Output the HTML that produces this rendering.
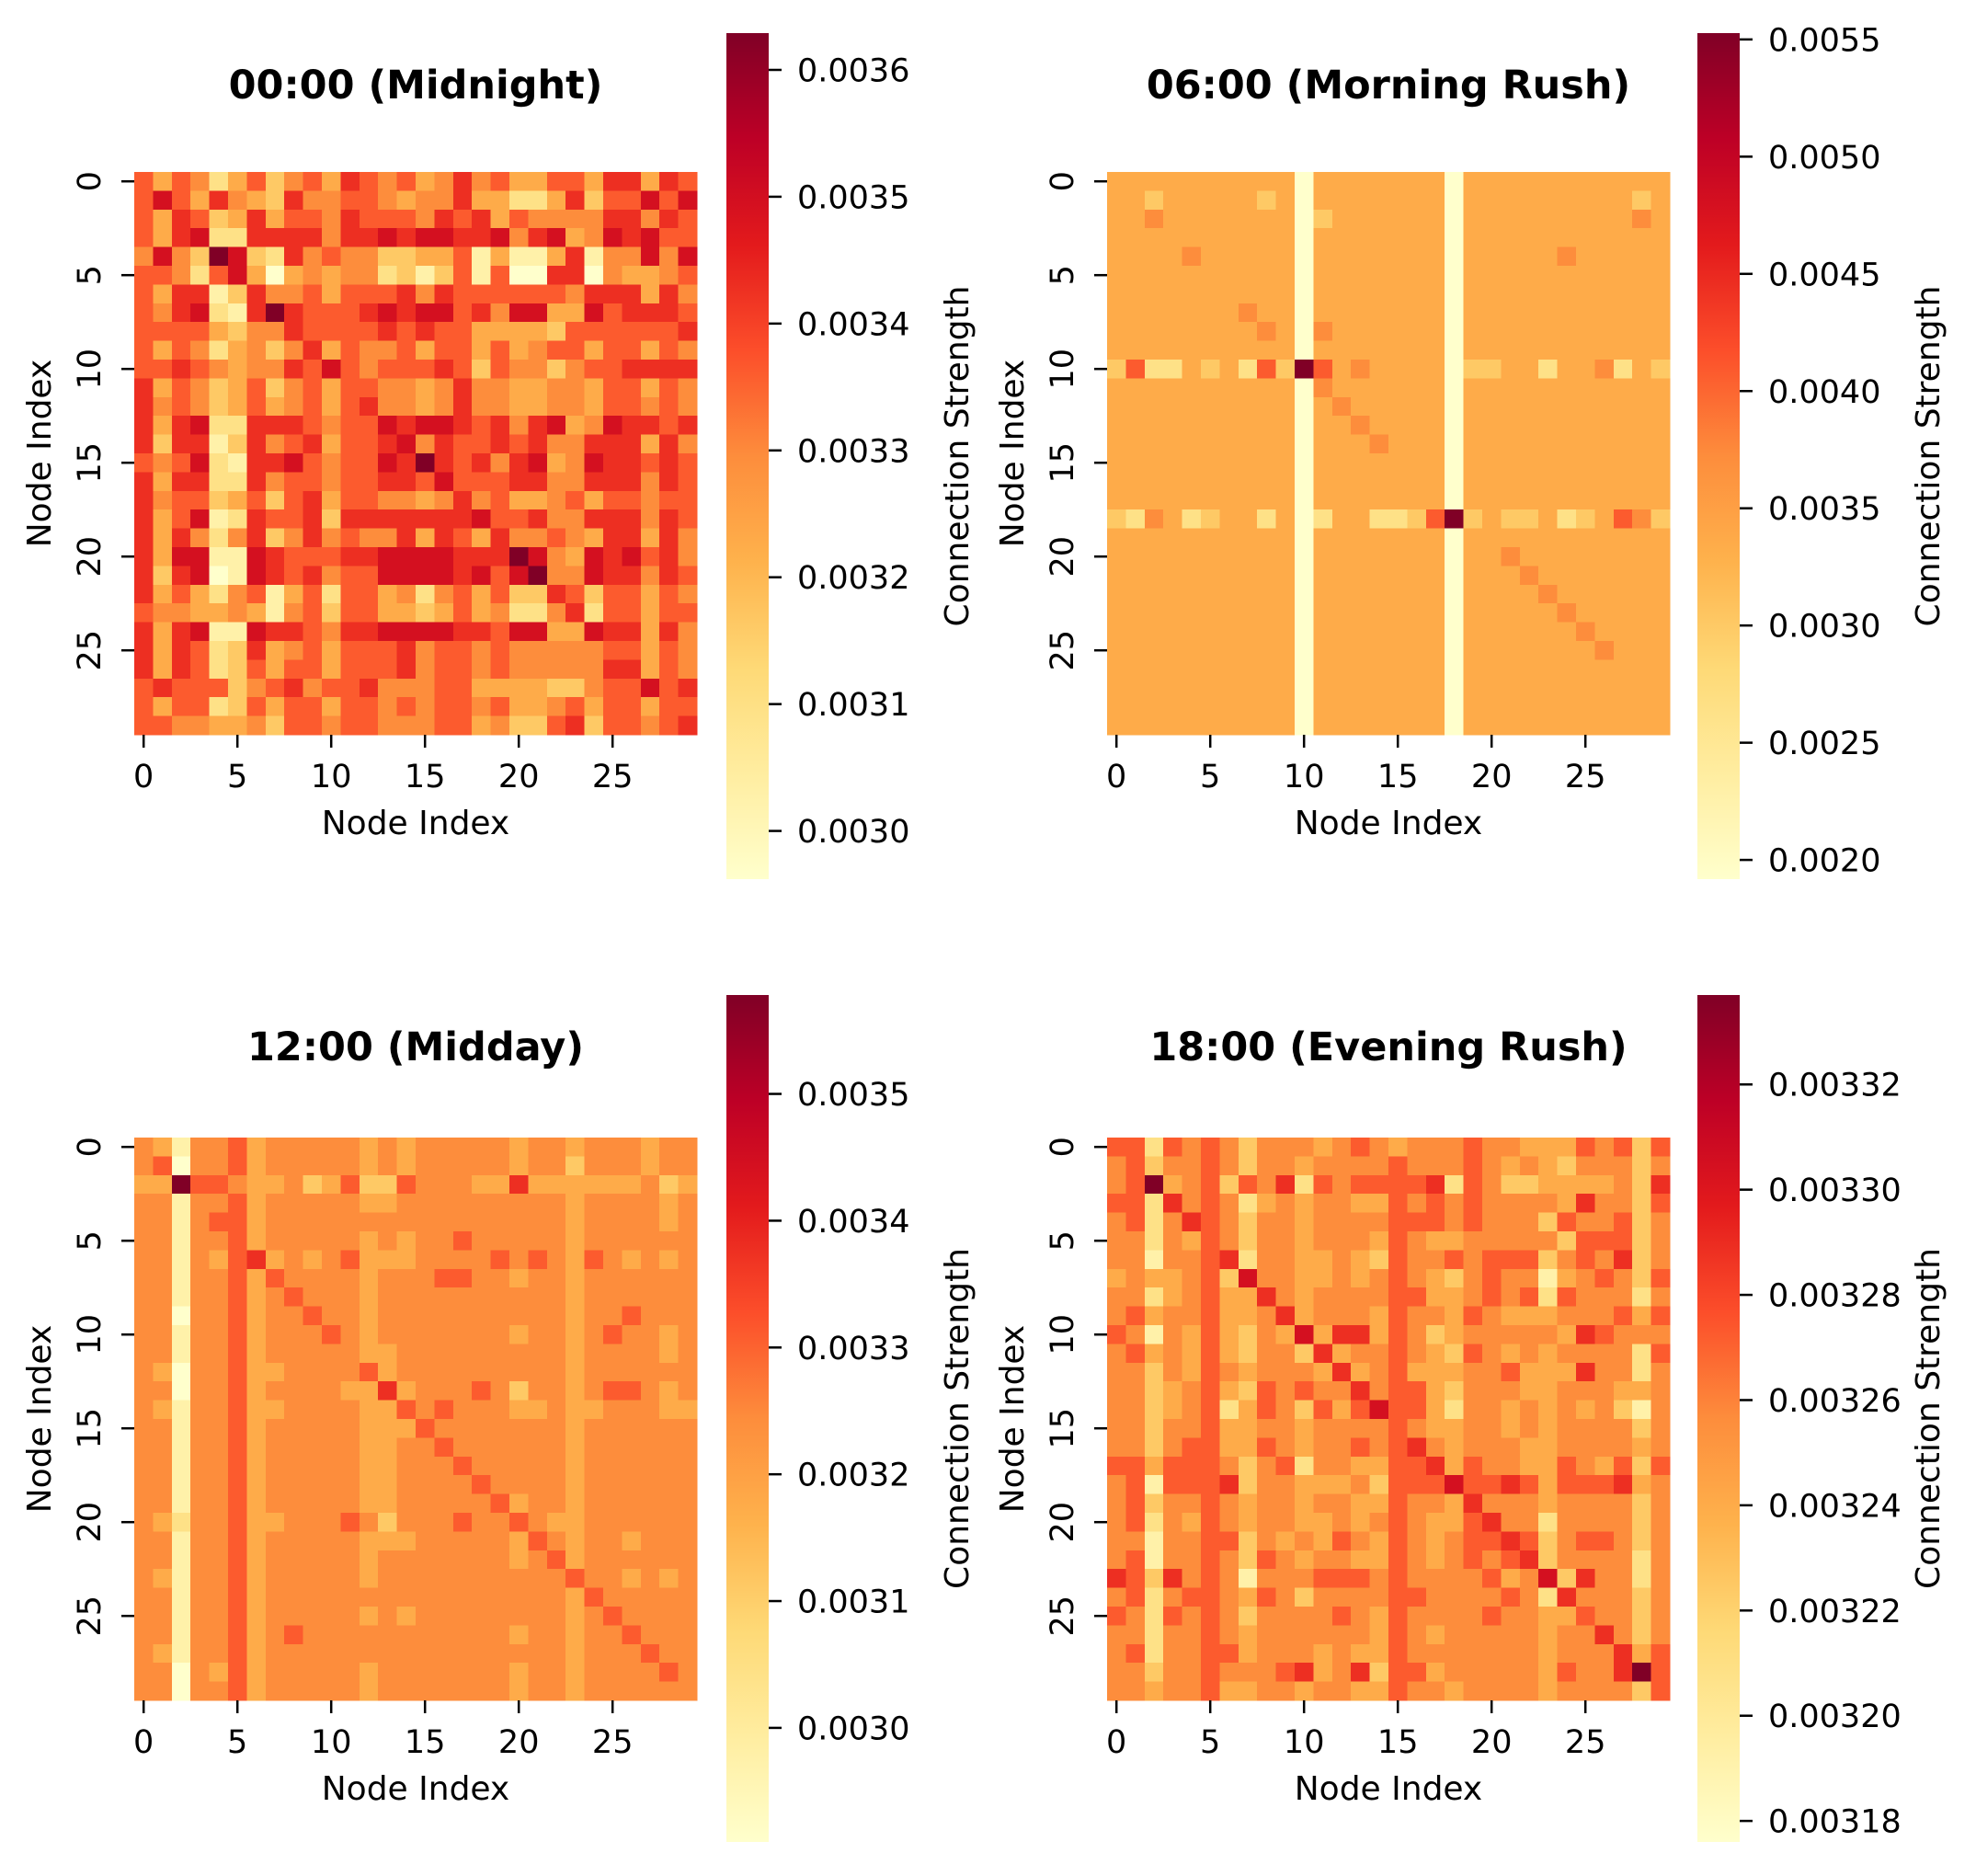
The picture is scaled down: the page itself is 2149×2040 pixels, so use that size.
<!DOCTYPE html>
<html><head><meta charset="utf-8"><style>
html,body{margin:0;padding:0;background:#fff;}
svg{display:block;font-family:"DejaVu Sans","Liberation Sans",sans-serif;}
</style></head>
<body>
<svg id="fig" width="2149" height="2040" viewBox="0 0 2149 2040" xmlns="http://www.w3.org/2000/svg">
<defs>
<linearGradient id="ylorrd" x1="0" y1="1" x2="0" y2="0">
<stop offset="0" stop-color="#ffffcc"/><stop offset="0.125" stop-color="#ffeda0"/><stop offset="0.25" stop-color="#fed976"/><stop offset="0.375" stop-color="#feb24c"/><stop offset="0.5" stop-color="#fd8d3c"/><stop offset="0.625" stop-color="#fc4e2a"/><stop offset="0.75" stop-color="#e31a1c"/><stop offset="0.875" stop-color="#bd0026"/><stop offset="1" stop-color="#800026"/>
</linearGradient>
</defs>
</svg>
<script>
// ---- data (levels 0-9; 0 = colour-scale min, 9 = colour-scale max) ----
const titles = ["00:00 (Midnight)", "06:00 (Morning Rush)", "12:00 (Midday)", "18:00 (Evening Rush)"];
const vmins = [0.002962, 0.001918, 0.00291, 0.003176];
const vmaxs = [0.003629, 0.005527, 0.003578, 0.003337];
const cbTicks0 = [0.0030, 0.0031, 0.0032, 0.0033, 0.0034, 0.0035, 0.0036];
const cbTicks1 = [0.0020, 0.0025, 0.0030, 0.0035, 0.0040, 0.0045, 0.0050, 0.0055];
const cbTicks2 = [0.0030, 0.0031, 0.0032, 0.0033, 0.0034, 0.0035];
const cbTicks3 = [0.00318, 0.00320, 0.00322, 0.00324, 0.00326, 0.00328, 0.00330, 0.00332];
const cbLabels0 = ["0.0030","0.0031","0.0032","0.0033","0.0034","0.0035","0.0036"];
const cbLabels1 = ["0.0020","0.0025","0.0030","0.0035","0.0040","0.0045","0.0050","0.0055"];
const cbLabels2 = ["0.0030","0.0031","0.0032","0.0033","0.0034","0.0035"];
const cbLabels3 = ["0.00318","0.00320","0.00322","0.00324","0.00326","0.00328","0.00330","0.00332"];
const axisTicks = [0, 5, 10, 15, 20, 25];
const axisTickLabels = ["0", "5", "10", "15", "20", "25"];

const levelsMidnight = [
"6465246356 4765645756 4466477476","6864754375 5665455744 2247366868","6476347466 5766657674 6555577576",
"6478227777 5778788778 5784587866","5853983275 6553344614 1147155858","6652684045 4552313616 0077054456",
"6477137556 4666757666 6665777475","6578217976 6678788675 8844867776","6666435576 6667676644 4436666667",
"6465245357 4655646646 4566466465","6676545576 8656667636 5535667777","7465346356 4665545755 4455466465",
"7565346456 4675545755 4455466565","7478227776 5668788767 5784587767","7377137567 4667857667 6755777475",
"6568217786 5668797675 7845877676","7477227566 5667768666 7755777576","7566346367 4665545756 4456466566",
"7468127667 3777777786 6755777576","7475257357 5655747647 5565477475","7488118766 6778888777 9854878675",
"7378018767 5668888786 8955877576","7464256146 2664525646 3376366465","6554454156 3664434645 2257266466",
"7478118776 5778888776 8844877475","7476237456 4666756656 5555566465","7476236466 4666756656 5555577465",
"6766635675 6675556644 4433566867","6466236466 4665656656 4456466466","6655445366 5665556645 3367366567"];

const levelsMorning = [
"4444444444 0444444404 4444444444","4434444434 0444444404 4444444434","4454444444 0344444404 4444444454",
"4444444444 0444444404 4444444444","4444544444 0444444404 4444544444","4444444444 0444444404 4444444444",
"4444444444 0444444404 4444444444","4444444544 0444444404 4444444444","4444444454 0544444404 4444444444",
"4444444444 0444444404 4444444444","3622434263 9645444403 3442445243","4444444444 0544444404 4444444444",
"4444444444 0454444404 4444444444","4444444444 0445444404 4444444444","4444444444 0444544404 4444444444",
"4444444444 0444444404 4444444444","4444444444 0444444404 4444444444","4444444444 0444444404 4444444444",
"3254234424 0244223693 4334234653","4444444444 0444444404 4444444444","4444444444 0444444404 4544444444",
"4444444444 0444444404 4454444444","4444444444 0444444404 4445444444","4444444444 0444444404 4444544444",
"4444444444 0444444404 4444454444","4444444444 0444444404 4444445444","4444444444 0444444404 4444444444",
"4444444444 0444444404 4444444444","4444444444 0444444404 4444444444","4444444444 0444444404 4444444444"];

const levelsMidday = [
"5415564555 5545455555 4554555455","5605564555 5545455555 4553555455","4496654453 4633655544 7444444534",
"5515564555 5544555555 5554555545","5515664555 5555555555 5554555545","5515564555 5545455655 5554555555",
"5515467454 5644455556 5654654545","5515564655 5545556655 4554555555","5515564565 5545555555 5554555555",
"5505564556 5545555555 5554556555","5515564555 6545555555 4554565545","5515564555 5544555555 5554555545",
"5405564455 5564555555 5554555555","5505564555 5447455565 3554566545","5415564455 5544656555 4454455544",
"5515564555 5544465555 5554555555","5515564555 5544556555 5554555555","5515564555 5544555655 5554555555",
"5515564555 5544555565 5554555555","5515564555 5544555556 4554555555","5425564455 5653555655 6544555555",
"5515564555 5544455555 4654554555","5515564555 5545555555 4564555555","5415564555 5545555555 5556554545",
"5515564555 5555555555 5554655555","5515564555 5545455555 5554565555","5515564565 5555555555 4554556555",
"5415564555 5555555555 5554555655","5505464555 5545555555 4554555565","5505564555 5545555555 4554555555"];

const levelsEvening = [
"6626565355 5456545556 5544465636","5635565355 4555565556 5454355535","5694563657 2656666726 5334444537",
"6627565245 4554465656 5555475536","5625765355 4555566656 5553655635","5525465355 4555465445 5555366635",
"5515567255 4454365565 6663565735","4544563855 4454565435 6551456536","5524564475 4555566445 6562655525",
"5645564457 4555465546 5444555646","6515464354 8477465345 5555476555","5645464355 3745565436 5454555526",
"5535465455 5474564445 5644475525","5534564365 6557566435 5544555445","5534562465 3646866425 5454545315",
"5535564455 4555565445 5454555535","5535664465 4556567545 5544555545","6646665356 2554466746 5544654636",
"5616667355 4445366686 6764666745","5635565455 4554465547 5554555535","5625465455 4454565446 7552555535",
"5515566354 5465465456 6763566535","5615565365 4554465456 5673555525","7637565155 5666565555 6458375525",
"5625665465 3555566555 5652755535","6526565355 5565465555 6554465535","5525565455 5555465455 5554557535",
"5625566455 5454465555 5554555746","5535565556 7457366455 5554655796","5545564455 4554465545 5554555536"];

const panelLevels = [levelsMidnight, levelsMorning, levelsMidday, levelsEvening];
const panelTicks = [cbTicks0, cbTicks1, cbTicks2, cbTicks3];
const panelTickLabels = [cbLabels0, cbLabels1, cbLabels2, cbLabels3];

// ---- layout ----
const NS = "http://www.w3.org/2000/svg";
const svg = document.getElementById('fig');
const HM = 612, N = 30, CW = HM / N;
const CB_W = 46;
const stops = ["#ffffcc","#ffeda0","#fed976","#feb24c","#fd8d3c","#fc4e2a","#e31a1c","#bd0026","#800026"];
function hex(c){return [parseInt(c.slice(1,3),16),parseInt(c.slice(3,5),16),parseInt(c.slice(5,7),16)];}
function cmap(t){
  t = Math.max(0, Math.min(1, t));
  const p = t * (stops.length - 1), i = Math.min(Math.floor(p), stops.length - 2), f = p - i;
  const a = hex(stops[i]), b = hex(stops[i+1]);
  return "rgb(" + a.map((v,k)=>Math.round(v + (b[k]-v)*f)).join(",") + ")";
}
function levelToT(L){ return L >= 9 ? 1 : L / 10; }
function mk(tag, attrs, parent){
  const e = document.createElementNS(NS, tag);
  for (const k in attrs) e.setAttribute(k, attrs[k]);
  (parent || svg).appendChild(e);
  return e;
}

for (let p = 0; p < 4; p++) {
  const c = p % 2, r = Math.floor(p / 2);
  const x0 = 146 + c * 1058, y0 = 187 + r * 1050;
  const cbx = 790 + c * 1056, cby0 = 36 + r * 1046, cby1 = 956 + r * 1047;
  const vmin = vmins[p], vmax = vmaxs[p];
  const xScale = i => x0 + (i + 0.5) * CW;
  const yScale = i => y0 + (i + 0.5) * CW;
  const cbScale = v => cby1 - (v - vmin) / (vmax - vmin) * (cby1 - cby0);

  const g = mk('g', {});
  
  

  const title = mk('text', {x: x0 + HM / 2, y: 107 + r * 1046, 'text-anchor': 'middle', 'font-size': 43, 'font-weight': 'bold', fill: '#000'}, g);
  
  
  title.textContent = titles[p];

  const cells = mk('g', {'shape-rendering': 'crispEdges'}, g);
  
  
  const lv = panelLevels[p].map(s => s.replace(/ /g, ''));
  for (let i = 0; i < N; i++) {
    for (let j = 0; j < N; j++) {
      const val = vmin + levelToT(parseInt(lv[i][j] || '5')) * (vmax - vmin);
      const rect = mk('rect', {x: (xScale(j) - CW / 2).toFixed(2), y: (yScale(i) - CW / 2).toFixed(2), width: (CW + 0.6).toFixed(2), height: (CW + 0.6).toFixed(2), fill: cmap((val - vmin) / (vmax - vmin))}, cells);
      
      
    }
  }

  axisTicks.forEach((t, k) => {
    const tx = xScale(t);
    const tl = mk('line', {x1: tx, x2: tx, y1: y0 + HM, y2: y0 + HM + 14, stroke: '#000', 'stroke-width': 2.5}, g);
    
    
    const lab = mk('text', {x: tx, y: y0 + HM + 57, 'text-anchor': 'middle', 'font-size': 35, fill: '#000'}, g);
    
    
    lab.textContent = axisTickLabels[k];
    const ty = yScale(t);
    const yl = mk('line', {x1: x0 - 14, x2: x0, y1: ty, y2: ty, stroke: '#000', 'stroke-width': 2.5}, g);
    
    
    const bx = x0 - 37;
    const ylab = mk('text', {x: bx, y: ty, 'text-anchor': 'middle', 'font-size': 35, fill: '#000', transform: 'rotate(-90 ' + bx + ' ' + ty + ')'}, g);
    
    
    ylab.textContent = axisTickLabels[k];
  });

  const xt = mk('text', {x: x0 + HM / 2, y: y0 + HM + 108, 'text-anchor': 'middle', 'font-size': 36, fill: '#000'}, g);
  
  
  xt.textContent = 'Node Index';
  const yc = y0 + HM / 2, yx = x0 - 91;
  const yt = mk('text', {x: yx, y: yc, 'text-anchor': 'middle', 'font-size': 36, fill: '#000', transform: 'rotate(-90 ' + yx + ' ' + yc + ')'}, g);
  
  
  yt.textContent = 'Node Index';

  const cb = mk('rect', {x: cbx, y: cby0, width: CB_W, height: cby1 - cby0, fill: 'url(#ylorrd)'}, g);
  
  
  panelTicks[p].forEach((v, k) => {
    const ty = cbScale(v);
    const tl = mk('line', {x1: cbx + CB_W, x2: cbx + CB_W + 14, y1: ty, y2: ty, stroke: '#000', 'stroke-width': 2.5}, g);
    
    
    const lab = mk('text', {x: cbx + CB_W + 31, y: ty + 12.5, 'font-size': 35, fill: '#000'}, g);
    
    
    lab.textContent = panelTickLabels[p][k];
  });
  const lx = cbx + 263, ly = (cby0 + cby1) / 2;
  const cl = mk('text', {x: lx, y: ly, 'text-anchor': 'middle', 'font-size': 36, fill: '#000', transform: 'rotate(-90 ' + lx + ' ' + ly + ')'}, g);
  
  
  cl.textContent = 'Connection Strength';
}
</script>
</body></html>
